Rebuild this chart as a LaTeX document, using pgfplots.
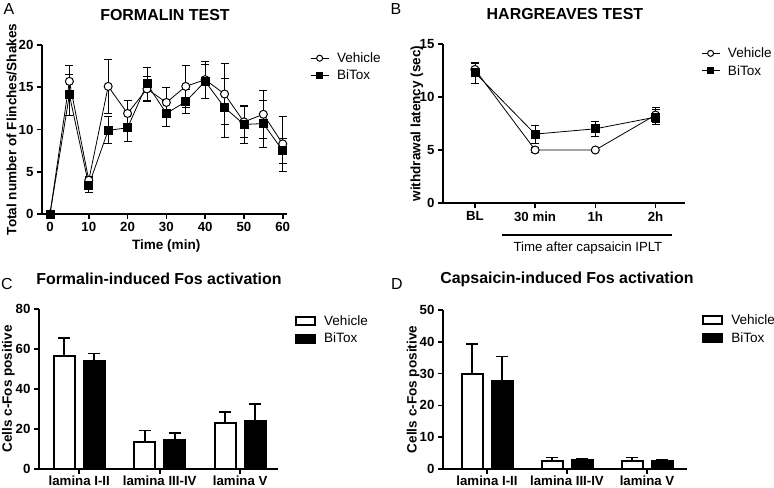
\documentclass[border=0pt]{standalone}
\usepackage{fontspec}
\setmainfont{Liberation Sans}
\usepackage{pgfplots}
\pgfplotsset{compat=1.18}

\pgfplotsset{
  prism/.style={
    scale only axis, clip=false,
    axis x line*=bottom, axis y line*=left,
    axis line style={line width=1.6bp, black},
    tick align=outside, major tick length=5bp,
    tick style={line width=1.6bp, black},
    tick label style={font=\fontsize{13.3}{15}\selectfont\bfseries},
    /pgf/number format/assume math mode=true,
    label style={font=\fontsize{13.6}{15}\selectfont\bfseries},
    title style={font=\fontsize{16}{18}\selectfont\bfseries, anchor=center},
    legend cell align=left,
    legend style={draw=none, fill=none, inner sep=0pt, row sep=3bp, column sep=7bp,
      font=\fontsize{13.6}{16}\selectfont,
      nodes={inner sep=1bp, text height=10.5bp, text depth=2bp}},
  },
  lineleg/.style={/pgfplots/legend image code/.code={%
    \draw[mark repeat=2, mark phase=2, ##1, mark size=3bp]
      plot coordinates {(0bp,0bp) (9bp,0bp) (18bp,0bp)};}},
  veh/.style={lineleg, black, line width=0.8bp, mark=*, mark size=4bp,
    mark options={fill=white, draw=black, line width=1bp},
    error bars/.cd, y dir=both, y explicit,
    error bar style={line width=0.8bp},
    error mark options={rotate=90, mark size=4bp, line width=0.8bp}},
  bit/.style={lineleg, black, line width=0.8bp, mark=square*, mark size=4bp,
    mark options={fill=black},
    error bars/.cd, y dir=both, y explicit,
    error bar style={line width=0.8bp},
    error mark options={rotate=90, mark size=4bp, line width=0.8bp}},
  barleg/.style={/pgfplots/legend image code/.code={\draw[##1, line width=2bp] (0bp,-4bp) rectangle (19bp,4bp);}},
  barerr/.style={/pgfplots/error bars/.cd, y dir=plus, y explicit,
    error bar style={line width=1.8bp},
    error mark options={rotate=90, mark size=6bp, line width=1.8bp}},
}

\pgfplotstableread{
t   v     ve   b     be
0   0     0    0     0
5   15.7  1.9  14.1  2.4
10  4.0   0.5  3.4   0.9
15  15.1  3.2  9.9   1.6
20  11.9  1.5  10.2  1.6
25  14.8  1.5  15.4  1.9
30  13.2  1.8  11.9  1.5
35  15.1  2.5  13.3  1.4
40  15.9  2.2  15.7  2.0
45  14.2  3.6  12.6  3.5
50  10.9  1.8  10.6  2.2
55  11.8  2.8  10.7  2.8
60  8.3   3.2  7.5   1.5
}\formalin

\pgfplotstableread{
t   v     ve    b     be
0   12.6  0.6   12.3  1.0
1   5.0   0.2   6.5   0.85
2   5.0   0.1   7.0   0.7
3   8.3   0.7   8.1   0.7
}\hargreaves

\pgfplotstableread{
x   v     ve   b     be
0   56.7  8.8  54.2  3.6
1   13.3  6.0  14.7  3.3
2   23.0  5.5  24.2  8.3
}\fosformalin

\pgfplotstableread{
x   v     ve   b     be
0   29.9  9.3  27.8  7.6
1   2.4   1.2  2.9   0.4
2   2.4   1.2  2.6   0.3
}\foscapsaicin

\begin{document}
\begin{tikzpicture}
\useasboundingbox (0bp,0bp) rectangle (774bp,488bp);

% A: formalin test
\begin{axis}[prism, at={(42bp,274bp)}, anchor=south west,
  width=245bp, height=169bp,
  xmin=-2.06, xmax=61.1, ymin=0, ymax=20,
  xtick={0,10,...,60}, ytick={0,5,...,20},
  title={FORMALIN TEST},
  title style={at={(axis description cs:0.502,1.142)}},
  xlabel={Time (min)},
  xlabel style={at={(axis description cs:0.507,-0.189)}, anchor=center},
  ylabel={Total number of Flinches/Shakes},
  ylabel style={at={(axis description cs:-0.124,0.5)}, anchor=center},
  legend style={at={(axis description cs:1.094,0.870)}, anchor=west},
]
\addplot[veh] table[x=t, y=v, y error=ve] {\formalin};
\addplot[bit] table[x=t, y=b, y error=be] {\formalin};
\legend{Vehicle, BiTox}
\end{axis}

% B: Hargreaves test
\begin{axis}[prism, at={(443bp,285bp)}, anchor=south west,
  width=242bp, height=159bp,
  xmin=-0.53, xmax=3.49, ymin=0, ymax=15,
  xtick={0,1,2,3}, xticklabels={BL, 30 min, 1h, 2h}, ytick={0,5,10,15},
  title={HARGREAVES TEST},
  title style={at={(axis description cs:0.504,1.148)}},
  xlabel={Time after capsaicin IPLT},
  xlabel style={at={(axis description cs:0.599,-0.283)}, anchor=center,
    font=\fontsize{13.3}{15}\selectfont\mdseries},
  ylabel={withdrawal latency (sec)},
  ylabel style={at={(axis description cs:-0.108,0.5)}, anchor=center},
  legend style={at={(axis description cs:1.066,0.886)}, anchor=west},
]
\addplot[veh] table[x=t, y=v, y error=ve] {\hargreaves};
\addplot[bit] table[x=t, y=b, y error=be] {\hargreaves};
\legend{Vehicle, BiTox}
\draw[line width=2bp] (axis description cs:0.244,-0.201) -- (axis description cs:0.946,-0.201);
\end{axis}

% C: formalin-induced Fos
\begin{axis}[prism, at={(39bp,19bp)}, anchor=south west,
  width=239bp, height=160bp,
  ybar=9bp, bar width=21bp,
  xmin=-0.5, xmax=2.47, ymin=0, ymax=80,
  xtick={0,1,2}, xticklabels={lamina I-II, lamina III-IV, lamina V},
  xticklabel style={yshift=1.5bp},
  ytick={0,20,...,80},
  title={Formalin-induced Fos activation},
  title style={at={(axis description cs:0.502,1.15)}},
  ylabel={Cells c-Fos positive},
  ylabel style={at={(axis description cs:-0.128,0.5)}, anchor=center},
  legend style={at={(axis description cs:1.071,0.869)}, anchor=west},
]
\addplot[draw=black, fill=white, line width=2bp, barleg, barerr] table[x=x, y=v, y error=ve] {\fosformalin};
\addplot[draw=black, fill=black, line width=2bp, barleg, barerr] table[x=x, y=b, y error=be] {\fosformalin};
\legend{Vehicle, BiTox}
\end{axis}

% D: capsaicin-induced Fos
\begin{axis}[prism, at={(443bp,19bp)}, anchor=south west,
  width=244bp, height=159bp,
  ybar=9bp, bar width=21bp,
  xmin=-0.55, xmax=2.5, ymin=0, ymax=50,
  xtick={0,1,2}, xticklabels={lamina I-II, lamina III-IV, lamina V},
  xticklabel style={yshift=1.5bp},
  ytick={0,10,...,50},
  title={Capsaicin-induced Fos activation},
  title style={at={(axis description cs:0.508,1.157)}},
  ylabel={Cells c-Fos positive},
  ylabel style={at={(axis description cs:-0.122,0.5)}, anchor=center},
  legend style={at={(axis description cs:1.062,0.880)}, anchor=west},
]
\addplot[draw=black, fill=white, line width=2bp, barleg, barerr] table[x=x, y=v, y error=ve] {\foscapsaicin};
\addplot[draw=black, fill=black, line width=2bp, barleg, barerr] table[x=x, y=b, y error=be] {\foscapsaicin};
\legend{Vehicle, BiTox}
\end{axis}

\node[font=\fontsize{16}{18}\selectfont] at (9bp,479bp) {A};
\node[font=\fontsize{16}{18}\selectfont] at (396bp,479bp) {B};
\node[font=\fontsize{16}{18}\selectfont] at (7bp,204bp) {C};
\node[font=\fontsize{16}{18}\selectfont] at (397bp,204bp) {D};
\end{tikzpicture}
\end{document}
